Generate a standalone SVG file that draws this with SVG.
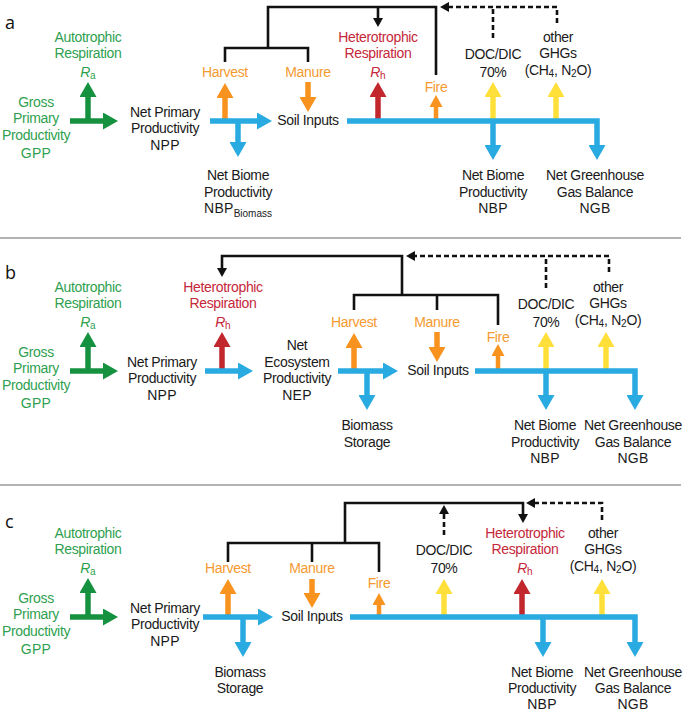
<svg xmlns="http://www.w3.org/2000/svg" width="685" height="712" viewBox="0 0 685 712">
<style>
text{font-family:"Liberation Sans",Arial,sans-serif;font-size:14px;letter-spacing:-0.35px;text-anchor:middle;fill:#1a1a1a}
.o{font-size:14px;letter-spacing:0.3px}
.g{fill:#2f9f4f}.or{fill:#f59a30}.rd{fill:#c5283a}
.sub{font-size:10px;letter-spacing:0}
.lt{font-family:"Open Sans","Liberation Sans",sans-serif;font-size:18px;letter-spacing:0;text-anchor:start;fill:#111}
.a{fill:none;stroke-width:5.5}
.ag{stroke:#16913f;marker-end:url(#hg)}.ab{stroke:#29abe2;marker-end:url(#hb)}.ao{stroke:#f7931e;marker-end:url(#ho)}
.ar{stroke:#c1272d;marker-end:url(#hr)}.ay{stroke:#ffe03a;marker-end:url(#hy)}
.af{fill:none;stroke:#f7931e;stroke-width:4.5;marker-end:url(#hos)}
.k{fill:none;stroke:#111;stroke-width:2.6}
.kd{fill:none;stroke:#111;stroke-width:2.6;stroke-dasharray:5 3}
.km{marker-end:url(#hk)}
.sep{stroke:#9a9a9a;stroke-width:1.5}
</style>
<defs>
<marker id="hg" markerUnits="userSpaceOnUse" viewBox="0 -8.5 15 17" refX="0" refY="0" markerWidth="15" markerHeight="17" orient="auto"><path d="M0,-8.5L15,0L0,8.5z" fill="#16913f"/></marker>
<marker id="hb" markerUnits="userSpaceOnUse" viewBox="0 -8.5 15 17" refX="0" refY="0" markerWidth="15" markerHeight="17" orient="auto"><path d="M0,-8.5L15,0L0,8.5z" fill="#29abe2"/></marker>
<marker id="ho" markerUnits="userSpaceOnUse" viewBox="0 -8.5 15 17" refX="0" refY="0" markerWidth="15" markerHeight="17" orient="auto"><path d="M0,-8.5L15,0L0,8.5z" fill="#f7931e"/></marker>
<marker id="hr" markerUnits="userSpaceOnUse" viewBox="0 -8.5 15 17" refX="0" refY="0" markerWidth="15" markerHeight="17" orient="auto"><path d="M0,-8.5L15,0L0,8.5z" fill="#c1272d"/></marker>
<marker id="hy" markerUnits="userSpaceOnUse" viewBox="0 -8.5 15 17" refX="0" refY="0" markerWidth="15" markerHeight="17" orient="auto"><path d="M0,-8.5L15,0L0,8.5z" fill="#ffe03a"/></marker>
<marker id="hos" markerUnits="userSpaceOnUse" viewBox="0 -6.5 12 13" refX="0" refY="0" markerWidth="12" markerHeight="13" orient="auto"><path d="M0,-6.5L12,0L0,6.5z" fill="#f7931e"/></marker>
<marker id="hk" markerUnits="userSpaceOnUse" viewBox="0 -5 9 10" refX="0" refY="0" markerWidth="9" markerHeight="10" orient="auto"><path d="M0,-5L9,0L0,5z" fill="#111"/></marker>
</defs>

<line class="sep" x1="0" y1="238" x2="681" y2="238"/>
<line class="sep" x1="0" y1="485" x2="681" y2="485"/>

<g id="connectors">
<!-- panel a -->
<path class="a ag" d="M88,123V97"/>
<path class="a ag" d="M70,121H103"/>
<path class="a ao" d="M225,121V98"/>
<path class="a ab" d="M210,121H257"/>
<path class="a ab" d="M238,121V142"/>
<path class="a ao" d="M308,82V97"/>
<path class="a ar" d="M378,121V97"/>
<path class="af" d="M436,121V107"/>
<path class="a ay" d="M493,121V97"/>
<path class="a ay" d="M556,121V97"/>
<path class="a ab" d="M347,121H597V145"/>
<path class="a ab" d="M493,121V145"/>
<path class="k" d="M225,62V48H308V62"/>
<path class="k" d="M268,48V7H436V75"/>
<path class="k km" d="M378,7V18"/>
<path class="kd km" d="M557,23V7H449"/>
<path class="kd" d="M493,38V7"/>
<!-- panel b -->
<path class="a ag" d="M88,373V347"/>
<path class="a ag" d="M70,371H103"/>
<path class="a ar" d="M222,371V347"/>
<path class="a ab" d="M205,371H238"/>
<path class="a ao" d="M354,371V348"/>
<path class="a ab" d="M338,371H383"/>
<path class="a ab" d="M367,371V395"/>
<path class="a ao" d="M437,332V347"/>
<path class="af" d="M498,371V356"/>
<path class="a ay" d="M546,371V347"/>
<path class="a ay" d="M606,371V347"/>
<path class="a ab" d="M475,371H635V395"/>
<path class="a ab" d="M546,371V395"/>
<path class="k km" d="M402,295V256H222V268"/>
<path class="k" d="M354,310V295H498V325"/>
<path class="k" d="M437,295V310"/>
<path class="kd km" d="M609,272V256H415"/>
<path class="kd" d="M546,288V256"/>
<!-- panel c -->
<path class="a ag" d="M88,619V593"/>
<path class="a ag" d="M70,617H103"/>
<path class="a ao" d="M228,617V594"/>
<path class="a ab" d="M203,617H258"/>
<path class="a ab" d="M243,617V642"/>
<path class="a ao" d="M312,579V593"/>
<path class="af" d="M379,617V605"/>
<path class="a ay" d="M444,617V594"/>
<path class="a ar" d="M522,617V594"/>
<path class="a ay" d="M602,617V594"/>
<path class="a ab" d="M350,617H635V642"/>
<path class="a ab" d="M543,617V642"/>
<path class="k" d="M228,562V543H379V572"/>
<path class="k" d="M312,543V562"/>
<path class="k km" d="M345,543V503H523V514"/>
<path class="kd km" d="M444,535V514"/>
<path class="kd km" d="M602,520V503H535"/>
</g>

<!-- Panel a nodes -->
<g id="label-a"><text class="lt" x="5" y="29">a</text></g>
<g id="a-ra"><text class="g" x="88" y="42">Autotrophic</text><text class="g" x="88" y="58">Respiration</text><text class="g" x="88" y="77"><tspan font-style="italic">R</tspan><tspan class="sub" dy="2">a</tspan></text></g>
<g id="a-gpp"><text class="g" x="36" y="107">Gross</text><text class="g" x="36" y="123">Primary</text><text class="g" x="36" y="140">Productivity</text><text class="g o" x="36" y="158">GPP</text></g>
<g id="a-npp"><text x="165" y="117">Net Primary</text><text x="165" y="133">Productivity</text><text class="o" x="165" y="150">NPP</text></g>
<g id="a-harvest"><text class="or" x="225" y="77">Harvest</text></g>
<g id="a-manure"><text class="or" x="308" y="77">Manure</text></g>
<g id="a-soil"><text x="308" y="125">Soil Inputs</text></g>
<g id="a-nbpb"><text x="238" y="180">Net Biome</text><text x="238" y="197">Productivity</text><text class="o" x="238" y="213">NBP<tspan class="sub" font-size="9px" dy="4">Biomass</tspan></text></g>
<g id="a-rh"><text class="rd" x="378" y="42">Heterotrophic</text><text class="rd" x="378" y="58">Respiration</text><text class="rd" x="378" y="77"><tspan font-style="italic">R</tspan><tspan class="sub" dy="2">h</tspan></text></g>
<g id="a-fire"><text class="or" x="436" y="92">Fire</text></g>
<g id="a-doc"><text x="493" y="59">DOC/DIC</text><text x="493" y="77">70%</text></g>
<g id="a-ghg"><text x="558" y="42">other</text><text x="558" y="58">GHGs</text><text x="558" y="75">(CH<tspan class="sub" dy="2">4</tspan><tspan dy="-2">, N</tspan><tspan class="sub" dy="2">2</tspan><tspan dy="-2">O)</tspan></text></g>
<g id="a-nbp"><text x="493" y="180">Net Biome</text><text x="493" y="197">Productivity</text><text class="o" x="493" y="213">NBP</text></g>
<g id="a-ngb"><text x="595" y="180">Net Greenhouse</text><text x="595" y="197">Gas Balance</text><text class="o" x="595" y="213">NGB</text></g>

<!-- Panel b nodes -->
<g id="label-b"><text class="lt" x="5" y="279">b</text></g>
<g id="b-ra"><text class="g" x="88" y="292">Autotrophic</text><text class="g" x="88" y="308">Respiration</text><text class="g" x="88" y="327"><tspan font-style="italic">R</tspan><tspan class="sub" dy="2">a</tspan></text></g>
<g id="b-gpp"><text class="g" x="36" y="357">Gross</text><text class="g" x="36" y="373">Primary</text><text class="g" x="36" y="390">Productivity</text><text class="g o" x="36" y="408">GPP</text></g>
<g id="b-npp"><text x="162" y="367">Net Primary</text><text x="162" y="383">Productivity</text><text class="o" x="162" y="400">NPP</text></g>
<g id="b-rh"><text class="rd" x="223" y="292">Heterotrophic</text><text class="rd" x="223" y="308">Respiration</text><text class="rd" x="223" y="327"><tspan font-style="italic">R</tspan><tspan class="sub" dy="2">h</tspan></text></g>
<g id="b-nep"><text x="297" y="350">Net</text><text x="297" y="367">Ecosystem</text><text x="297" y="383">Productivity</text><text class="o" x="297" y="400">NEP</text></g>
<g id="b-harvest"><text class="or" x="354" y="327">Harvest</text></g>
<g id="b-biomass"><text x="367" y="430">Biomass</text><text x="367" y="447">Storage</text></g>
<g id="b-manure"><text class="or" x="437" y="327">Manure</text></g>
<g id="b-soil"><text x="438" y="375">Soil Inputs</text></g>
<g id="b-fire"><text class="or" x="498" y="342">Fire</text></g>
<g id="b-doc"><text x="546" y="309">DOC/DIC</text><text x="546" y="327">70%</text></g>
<g id="b-ghg"><text x="608" y="292">other</text><text x="608" y="308">GHGs</text><text x="608" y="325">(CH<tspan class="sub" dy="2">4</tspan><tspan dy="-2">, N</tspan><tspan class="sub" dy="2">2</tspan><tspan dy="-2">O)</tspan></text></g>
<g id="b-nbp"><text x="545" y="430">Net Biome</text><text x="545" y="447">Productivity</text><text class="o" x="545" y="463">NBP</text></g>
<g id="b-ngb"><text x="633" y="430">Net Greenhouse</text><text x="633" y="447">Gas Balance</text><text class="o" x="633" y="463">NGB</text></g>

<!-- Panel c nodes -->
<g id="label-c"><text class="lt" x="5" y="528">c</text></g>
<g id="c-ra"><text class="g" x="88" y="538">Autotrophic</text><text class="g" x="88" y="554">Respiration</text><text class="g" x="88" y="573"><tspan font-style="italic">R</tspan><tspan class="sub" dy="2">a</tspan></text></g>
<g id="c-gpp"><text class="g" x="36" y="603">Gross</text><text class="g" x="36" y="619">Primary</text><text class="g" x="36" y="636">Productivity</text><text class="g o" x="36" y="654">GPP</text></g>
<g id="c-npp"><text x="165" y="613">Net Primary</text><text x="165" y="629">Productivity</text><text class="o" x="165" y="646">NPP</text></g>
<g id="c-harvest"><text class="or" x="228" y="573">Harvest</text></g>
<g id="c-biomass"><text x="240" y="677">Biomass</text><text x="240" y="693">Storage</text></g>
<g id="c-manure"><text class="or" x="312" y="573">Manure</text></g>
<g id="c-soil"><text x="312" y="621">Soil Inputs</text></g>
<g id="c-fire"><text class="or" x="379" y="588">Fire</text></g>
<g id="c-doc"><text x="444" y="555">DOC/DIC</text><text x="444" y="573">70%</text></g>
<g id="c-rh"><text class="rd" x="525" y="538">Heterotrophic</text><text class="rd" x="525" y="554">Respiration</text><text class="rd" x="525" y="573"><tspan font-style="italic">R</tspan><tspan class="sub" dy="2">h</tspan></text></g>
<g id="c-ghg"><text x="603" y="538">other</text><text x="603" y="554">GHGs</text><text x="603" y="571">(CH<tspan class="sub" dy="2">4</tspan><tspan dy="-2">, N</tspan><tspan class="sub" dy="2">2</tspan><tspan dy="-2">O)</tspan></text></g>
<g id="c-nbp"><text x="542" y="677">Net Biome</text><text x="542" y="693">Productivity</text><text class="o" x="542" y="709">NBP</text></g>
<g id="c-ngb"><text x="633" y="677">Net Greenhouse</text><text x="633" y="693">Gas Balance</text><text class="o" x="633" y="709">NGB</text></g>
</svg>
